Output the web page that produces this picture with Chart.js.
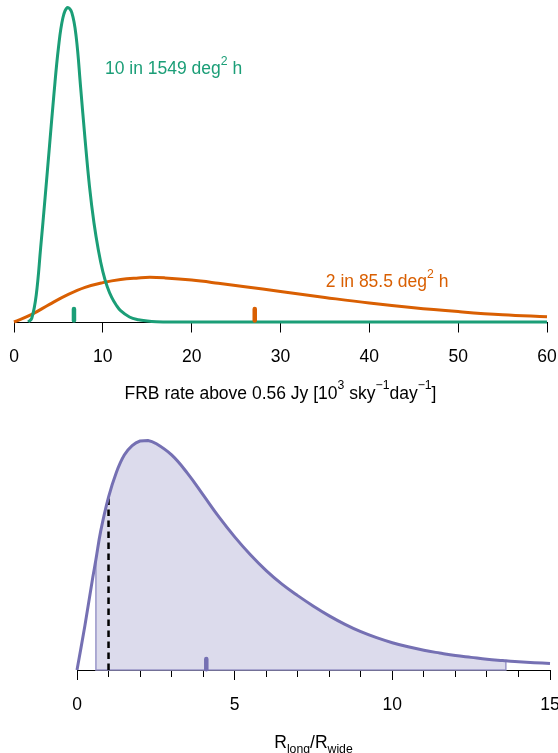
<!DOCTYPE html>
<html>
<head>
<meta charset="utf-8">
<script src="https://cdn.jsdelivr.net/npm/chart.js@4.4.1/dist/chart.umd.min.js"></script>
<style>
  html, body { margin: 0; padding: 0; background: #fff; }
  #wrap { position: relative; width: 558px; height: 753px; }
  canvas { position: absolute; left: 0; }
</style>
</head>
<body>
<div id="wrap">
  <canvas id="rate_chart" width="558" height="410" style="top:0"></canvas>
  <canvas id="ratio_chart" width="558" height="343" style="top:410px"></canvas>
</div>
<script>
// posterior of the FRB rate (relative density, narrow curve peak = 1)
var rateX10 = [1.6, 2, 2.5, 3, 3.5, 4, 4.5, 5, 5.5, 6, 6.5, 7, 7.5, 8, 8.5, 9, 9.5, 10, 10.5, 11, 11.5, 12, 13, 14, 15, 16, 18, 20, 30, 40, 50, 60]
var dens10 = [0, 0.012, 0.085, 0.235, 0.395, 0.56, 0.725, 0.87, 0.965, 0.998, 0.983, 0.905, 0.745, 0.58, 0.43, 0.315, 0.228, 0.16, 0.112, 0.078, 0.054, 0.036, 0.016, 0.007, 0.003, 0.001, 0, 0, 0, 0, 0, 0]
var rateX2 = [0, 2, 4, 6, 8, 10, 12, 14, 15.3, 17, 20, 23, 26, 30, 35, 40, 45, 50, 55, 60]
var dens2 = [0, 0.024, 0.056, 0.086, 0.110, 0.125, 0.135, 0.140, 0.142, 0.140, 0.133, 0.123, 0.112, 0.097, 0.078, 0.060, 0.045, 0.033, 0.023, 0.0165]
var rateMean = [6.75, 27.1]   // 10 events, 2 events
var rateLabels = [
    [['10 in 1549 deg', 0], ['2', 1], [' h', 0]],
    [['2 in 85.5 deg', 0], ['2', 1], [' h', 0]]
]
var rateTitle = [['FRB rate above 0.56 Jy [10', 0], ['3', 1], [' sky', 0], ['\u22121', 1], ['day', 0], ['\u22121', 1], [']', 0]]

// R_long / R_wide (relative density, peak = 1)
var ratioX = [0, 0.25, 0.5, 0.6, 0.75, 1, 1.25, 1.5, 1.75, 2, 2.25, 2.5, 3, 3.5, 4, 4.5, 5, 5.5, 6, 6.5, 7, 7.5, 8, 8.5, 9, 9.5, 10, 10.5, 11, 11.5, 12, 12.5, 13, 13.5, 13.6, 14, 14.5, 15]
var ratioDens = [0, 0.193, 0.403, 0.481, 0.604, 0.753, 0.862, 0.937, 0.978, 0.998, 1.0, 0.987, 0.937, 0.858, 0.763, 0.667, 0.580, 0.502, 0.433, 0.374, 0.324, 0.278, 0.236, 0.199, 0.167, 0.141, 0.119, 0.101, 0.086, 0.074, 0.063, 0.055, 0.047, 0.041, 0.040, 0.036, 0.032, 0.028]
var ratioInterval = [0.6, 13.6]
var ratioMean = 4.1
var ratioRef = 1
var ratioTitle = [['R', 0], ['long', -1], ['/', 0], ['R', 0], ['wide', -1]]

var green = '#1b9e77', orange = '#d95f02', purple = '#7570b3'
var FONT = "'Liberation Sans', Arial, Helvetica, sans-serif"
var FSIZE = 17.5

function pts(xs, ys) {
    return xs.map(function(x, i) { return {x: x, y: ys[i]} })
}

function curve(data, color) {
    return {data: data, borderColor: color, borderWidth: 3, pointRadius: 0, fill: false,
            tension: 0.4, clip: false}
}

function rug(x, y0, y1, color) {
    return {data: [{x: x, y: y0}, {x: x, y: y1}], borderColor: color, borderWidth: 4.5,
            borderCapStyle: 'round', pointRadius: 0, fill: false, clip: false}
}

function drawRich(ctx, runs, x, y, color, align) {
    var widths = runs.map(function(r) {
        ctx.font = (r[1] ? FSIZE * 0.7 : FSIZE) + 'px ' + FONT
        return ctx.measureText(r[0]).width
    })
    var total = widths.reduce(function(a, b) { return a + b }, 0)
    var cx = align === 'center' ? x - total / 2 : x
    ctx.save()
    ctx.fillStyle = color
    ctx.textAlign = 'left'
    ctx.textBaseline = 'alphabetic'
    runs.forEach(function(r, i) {
        ctx.font = (r[1] ? FSIZE * 0.7 : FSIZE) + 'px ' + FONT
        var dy = r[1] === 1 ? -FSIZE * 0.55 : (r[1] === -1 ? FSIZE * 0.3 : 0)
        ctx.fillText(r[0], cx, y + dy)
        cx += widths[i]
    })
    ctx.restore()
}

// texts placed through the scales
var richText = {
    id: 'richText',
    afterDatasetsDraw: function(chart, args, opts) {
        var ctx = chart.ctx, xs = chart.scales.x, ys = chart.scales.y
        ;(opts.labels || []).forEach(function(l) {
            drawRich(ctx, l.runs, xs.getPixelForValue(l.x), ys.getPixelForValue(l.y), l.color, 'left')
        })
        var area = chart.chartArea
        drawRich(ctx, opts.title, (area.left + area.right) / 2, opts.titleY, '#000', 'center')
    }
}

function xAxis(max, step, tickLen, height, labelEvery, pad) {
    return {
        type: 'linear', min: 0, max: max,
        ticks: {
            stepSize: step, autoSkip: false, maxRotation: 0, color: '#000', padding: pad,
            font: {family: FONT, size: FSIZE},
            callback: function(v) { return v % labelEvery === 0 ? v : '' }
        },
        grid: {
            drawOnChartArea: false, tickLength: tickLen, tickColor: '#000', tickWidth: 1,
            tickBorderDash: function(c) {
                return (c.tick && c.tick.value % labelEvery !== 0) ? [6, 40] : []
            }
        },
        border: {color: '#000', width: 1},
        afterFit: function(s) { s.height = height; s.paddingLeft = 0; s.paddingRight = 0 }
    }
}

var rateChart = new Chart(document.getElementById('rate_chart'), {
    type: 'line',
    data: {
        datasets: [
            rug(rateMean[0], 0.005, 0.041, green),
            rug(rateMean[1], 0.005, 0.041, orange),
            curve(pts(rateX10, dens10), green),
            curve(pts(rateX2, dens2), orange)
        ]
    },
    options: {
        responsive: false,
        animation: false,
        layout: {padding: {left: 14, right: 11, top: 7, bottom: 0}},
        plugins: {
            legend: {display: false},
            tooltip: {enabled: false},
            richText: {
                labels: [
                    {runs: rateLabels[0], x: 10.24, y: 0.786, color: green},
                    {runs: rateLabels[1], x: 35.1, y: 0.110, color: orange}
                ],
                title: rateTitle,
                titleY: 398.5
            }
        },
        scales: {
            x: xAxis(60, 10, 10.5, 88, 10, 14),
            y: {display: false, min: 0, max: 1}
        }
    },
    plugins: [richText]
})

var fillPts = pts(ratioX, ratioDens).filter(function(p) {
    return p.x >= ratioInterval[0] && p.x <= ratioInterval[1]
})
var lo = fillPts[0], hi = fillPts[fillPts.length - 1]

var ratioChart = new Chart(document.getElementById('ratio_chart'), {
    type: 'line',
    data: {
        datasets: [
            curve(pts(ratioX, ratioDens), purple),
            rug(ratioMean, 0.003, 0.048, purple),
            {data: [{x: ratioRef, y: 0}, {x: ratioRef, y: ratioDens[ratioX.indexOf(ratioRef)]}],
             borderColor: '#000', borderWidth: 2.5, borderDash: [6.5, 4.5], pointRadius: 0, fill: false, clip: false},
            {data: [{x: lo.x, y: lo.y}, {x: lo.x, y: 0}, {x: hi.x, y: 0}, {x: hi.x, y: hi.y}],
             borderColor: '#9995c8', borderWidth: 1.5, pointRadius: 0, fill: false, clip: false},
            {data: fillPts, borderWidth: 0, pointRadius: 0, fill: 'origin', tension: 0.4,
             backgroundColor: 'rgba(117,112,179,0.25)', clip: false}
        ]
    },
    options: {
        responsive: false,
        animation: false,
        layout: {padding: {left: 77, right: 8, top: 30.5, bottom: 0}},
        plugins: {
            legend: {display: false},
            tooltip: {enabled: false},
            richText: {labels: [], title: ratioTitle, titleY: 338}
        },
        scales: {
            x: xAxis(15, 1, 10, 83, 5, 15),
            y: {display: false, min: 0, max: 1}
        }
    },
    plugins: [richText]
})
</script>
</body>
</html>
